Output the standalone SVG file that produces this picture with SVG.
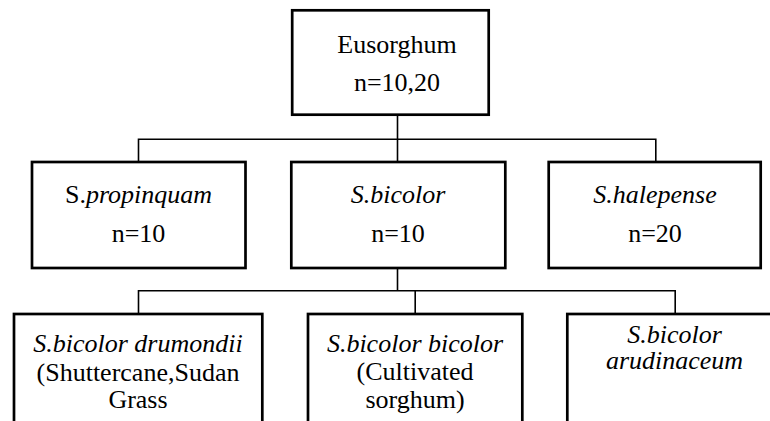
<svg xmlns="http://www.w3.org/2000/svg" width="770" height="421" viewBox="0 0 770 421">
<style>
.box{fill:#fff;stroke:#000;stroke-width:2.7}
.con{fill:none;stroke:#000;stroke-width:1.6}
</style>
<rect width="770" height="421" fill="#fff"/>
<g id="connectors">
<path class="con" d="M397.5 115 V162 M138.5 162 V139.2 H655.8 V162"/>
<path class="con" d="M397.5 268 V290.8 M138.5 314 V290.8 H675.2 V314 M415.2 290.8 V314"/>
</g>
<g id="eusorghum">
<rect class="box" x="292.2" y="10.3" width="196.5" height="104.4"/>
<text x="397" y="53.3" text-anchor="middle" font-family="Times New Roman, Liberation Serif, serif" font-size="26">Eusorghum</text>
<text x="397" y="90.7" text-anchor="middle" font-family="Times New Roman, Liberation Serif, serif" font-size="26">n=10,20</text>
</g>
<g id="propinquam">
<rect class="box" x="32" y="162" width="213.5" height="106"/>
<text x="138.5" y="203.3" text-anchor="middle" font-family="Times New Roman, Liberation Serif, serif" font-size="26">S.<tspan font-style="italic">propinquam</tspan></text>
<text x="138.5" y="241.7" text-anchor="middle" font-family="Times New Roman, Liberation Serif, serif" font-size="26">n=10</text>
</g>
<g id="bicolor">
<rect class="box" x="291.3" y="162" width="214" height="106"/>
<text x="398" y="203.3" text-anchor="middle" font-family="Times New Roman, Liberation Serif, serif" font-size="26" font-style="italic">S.bicolor</text>
<text x="398" y="241.7" text-anchor="middle" font-family="Times New Roman, Liberation Serif, serif" font-size="26">n=10</text>
</g>
<g id="halepense">
<rect class="box" x="548.7" y="162" width="212" height="106"/>
<text x="655" y="203.3" text-anchor="middle" font-family="Times New Roman, Liberation Serif, serif" font-size="26" font-style="italic">S.halepense</text>
<text x="655" y="241.7" text-anchor="middle" font-family="Times New Roman, Liberation Serif, serif" font-size="26">n=20</text>
</g>
<g id="drumondii">
<rect class="box" x="14" y="314" width="248.3" height="120"/>
<text x="138" y="351.7" text-anchor="middle" font-family="Times New Roman, Liberation Serif, serif" font-size="26" font-style="italic">S.bicolor drumondii</text>
<text x="138" y="381" text-anchor="middle" font-family="Times New Roman, Liberation Serif, serif" font-size="26">(Shuttercane,Sudan</text>
<text x="138" y="408.3" text-anchor="middle" font-family="Times New Roman, Liberation Serif, serif" font-size="26">Grass</text>
</g>
<g id="bicolor-bicolor">
<rect class="box" x="308" y="314" width="214.3" height="120"/>
<text x="415" y="351.7" text-anchor="middle" font-family="Times New Roman, Liberation Serif, serif" font-size="26" font-style="italic">S.bicolor bicolor</text>
<text x="415" y="380" text-anchor="middle" font-family="Times New Roman, Liberation Serif, serif" font-size="26">(Cultivated</text>
<text x="415" y="408" text-anchor="middle" font-family="Times New Roman, Liberation Serif, serif" font-size="26">sorghum)</text>
</g>
<g id="arudinaceum">
<rect class="box" x="567.3" y="314" width="220" height="120"/>
<text x="674.5" y="342.7" text-anchor="middle" font-family="Times New Roman, Liberation Serif, serif" font-size="26" font-style="italic">S.bicolor</text>
<text x="674.5" y="369.3" text-anchor="middle" font-family="Times New Roman, Liberation Serif, serif" font-size="26" font-style="italic">arudinaceum</text>
</g>
</svg>
